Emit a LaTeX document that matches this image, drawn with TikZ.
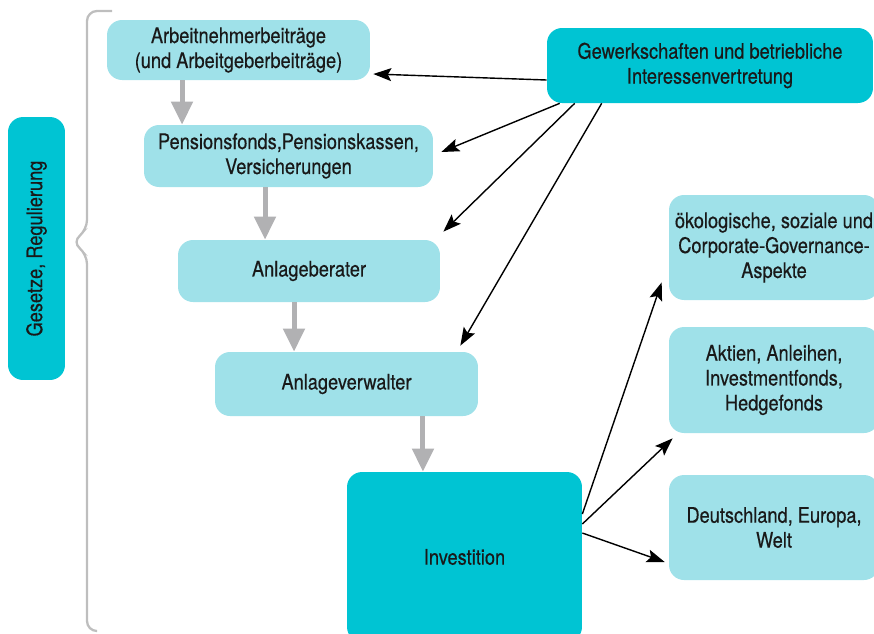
\documentclass[tikz,border=0pt]{standalone}
\usepackage{fontspec}
\setmainfont{TeX Gyre Heros}[FakeStretch=0.85, FakeBold=0.4]
\usepackage{xcolor}
\usepackage{tikz}
\usetikzlibrary{arrows.meta}
\usetikzlibrary{positioning}

\definecolor{tuerkis}{HTML}{00C4D3}
\definecolor{hellblau}{HTML}{9FE1E9}
\definecolor{pfeilgrau}{HTML}{B1B1B3}
\definecolor{klammer}{HTML}{BEBEBE}

\begin{document}
\begin{tikzpicture}[x=0.02cm, y=-0.02cm,
    every node/.style={font=\fontsize{12.2}{14.2}\selectfont, text=black!90, align=center},
    kasten/.style={rounded corners=0.3cm, fill=hellblau, inner sep=2pt},
    haupt/.style={rounded corners=0.3cm, fill=tuerkis, inner sep=2pt},
    fluss/.style={pfeilgrau, line width=0.1cm, -{Triangle[width=0.42cm,length=0.46cm]}},
    pfeil/.style={black, line width=0.8pt, -{Stealth[length=0.36cm,width=0.26cm,inset=0.07cm]}}]
  \useasboundingbox (0,0) rectangle (874,633);

  % Klammer links
  \draw[klammer, line width=1.3pt, rounded corners=0.2cm]
    (112,11) -| (87,230) -- (72,242) -- (87,254) |- (97,631);
  \node[haupt, rotate=90, minimum width=5.26cm, minimum height=1.14cm] (ges) at (36.5,248.5) {Gesetze, Regulierung};

  % Kette der Kaesten
  \node[kasten, minimum width=5.26cm, minimum height=1.2cm] (arb) at (238.5,50) {Arbeitnehmerbeiträge\\(und Arbeitgeberbeiträge)};
  \node[kasten, minimum width=5.78cm, minimum height=1.24cm] (pens) at (288.5,156) {Pensionsfonds,Pensionskassen,\\Versicherungen};
  \node[kasten, minimum width=5.24cm, minimum height=1.24cm] (berater) at (309,271) {Anlageberater};
  \node[kasten, minimum width=5.26cm, minimum height=1.28cm] (verwalter) at (346.5,384) {Anlageverwalter};
  \node[haupt, minimum width=4.7cm, minimum height=3.4cm] (invest) at (464.5,557) {Investition};

  % Gewerkschaften oben rechts
  \node[haupt, minimum width=6.52cm, minimum height=1.5cm] (gew) at (710,65.5) {Gewerkschaften und betriebliche\\Interessenvertretung};

  % Kaesten rechts
  \node[kasten, minimum width=4.2cm, minimum height=2.1cm] (oeko) at (774,247.5) {ökologische, soziale und\\Corporate-Governance-\\Aspekte};
  \node[kasten, minimum width=4.2cm, minimum height=2.12cm] (aktien) at (774,380) {Aktien, Anleihen,\\Investmentfonds,\\Hedgefonds};
  \node[kasten, minimum width=4.2cm, minimum height=2.1cm] (deutsch) at (774,527.5) {Deutschland, Europa,\\Welt};

  % graue Pfeile
  \draw[fluss] ([xshift=-1.13cm]arb.south) -- ([xshift=-1.13cm]arb.south |- pens.north);
  \draw[fluss] ([xshift=-0.47cm]pens.south) -- ([xshift=-0.47cm]pens.south |- berater.north);
  \draw[fluss] ([xshift=-0.3cm]berater.south) -- ([xshift=-0.3cm]berater.south |- verwalter.north);
  \draw[fluss] ([xshift=1.53cm]verwalter.south) -- ([xshift=1.53cm]verwalter.south |- invest.north);

  % Pfeile von den Gewerkschaften
  \draw[pfeil] ([yshift=-0.29cm]gew.west) -- ([xshift=0.06cm,yshift=-0.48cm]arb.east);
  \draw[pfeil] ([xshift=0.26cm]gew.south west) -- ([xshift=0.16cm,yshift=0.08cm]pens.east);
  \draw[pfeil] ([xshift=0.56cm]gew.south west) -- ([xshift=0.06cm,yshift=0.16cm]berater.north east);
  \draw[pfeil] ([xshift=1.1cm]gew.south west) -- ([xshift=-0.36cm,yshift=0.12cm]verwalter.north east);

  % Pfeile von der Investition
  \draw[pfeil] ([yshift=0.86cm]invest.east) -- ([xshift=-0.14cm,yshift=0.36cm]oeko.south west);
  \draw[pfeil] ([yshift=0.66cm]invest.east) -- ([xshift=0.08cm,yshift=-0.1cm]aktien.south west);
  \draw[pfeil] ([yshift=0.48cm]invest.east) -- ([xshift=-0.08cm,yshift=-0.69cm]deutsch.west);
\end{tikzpicture}
\end{document}
